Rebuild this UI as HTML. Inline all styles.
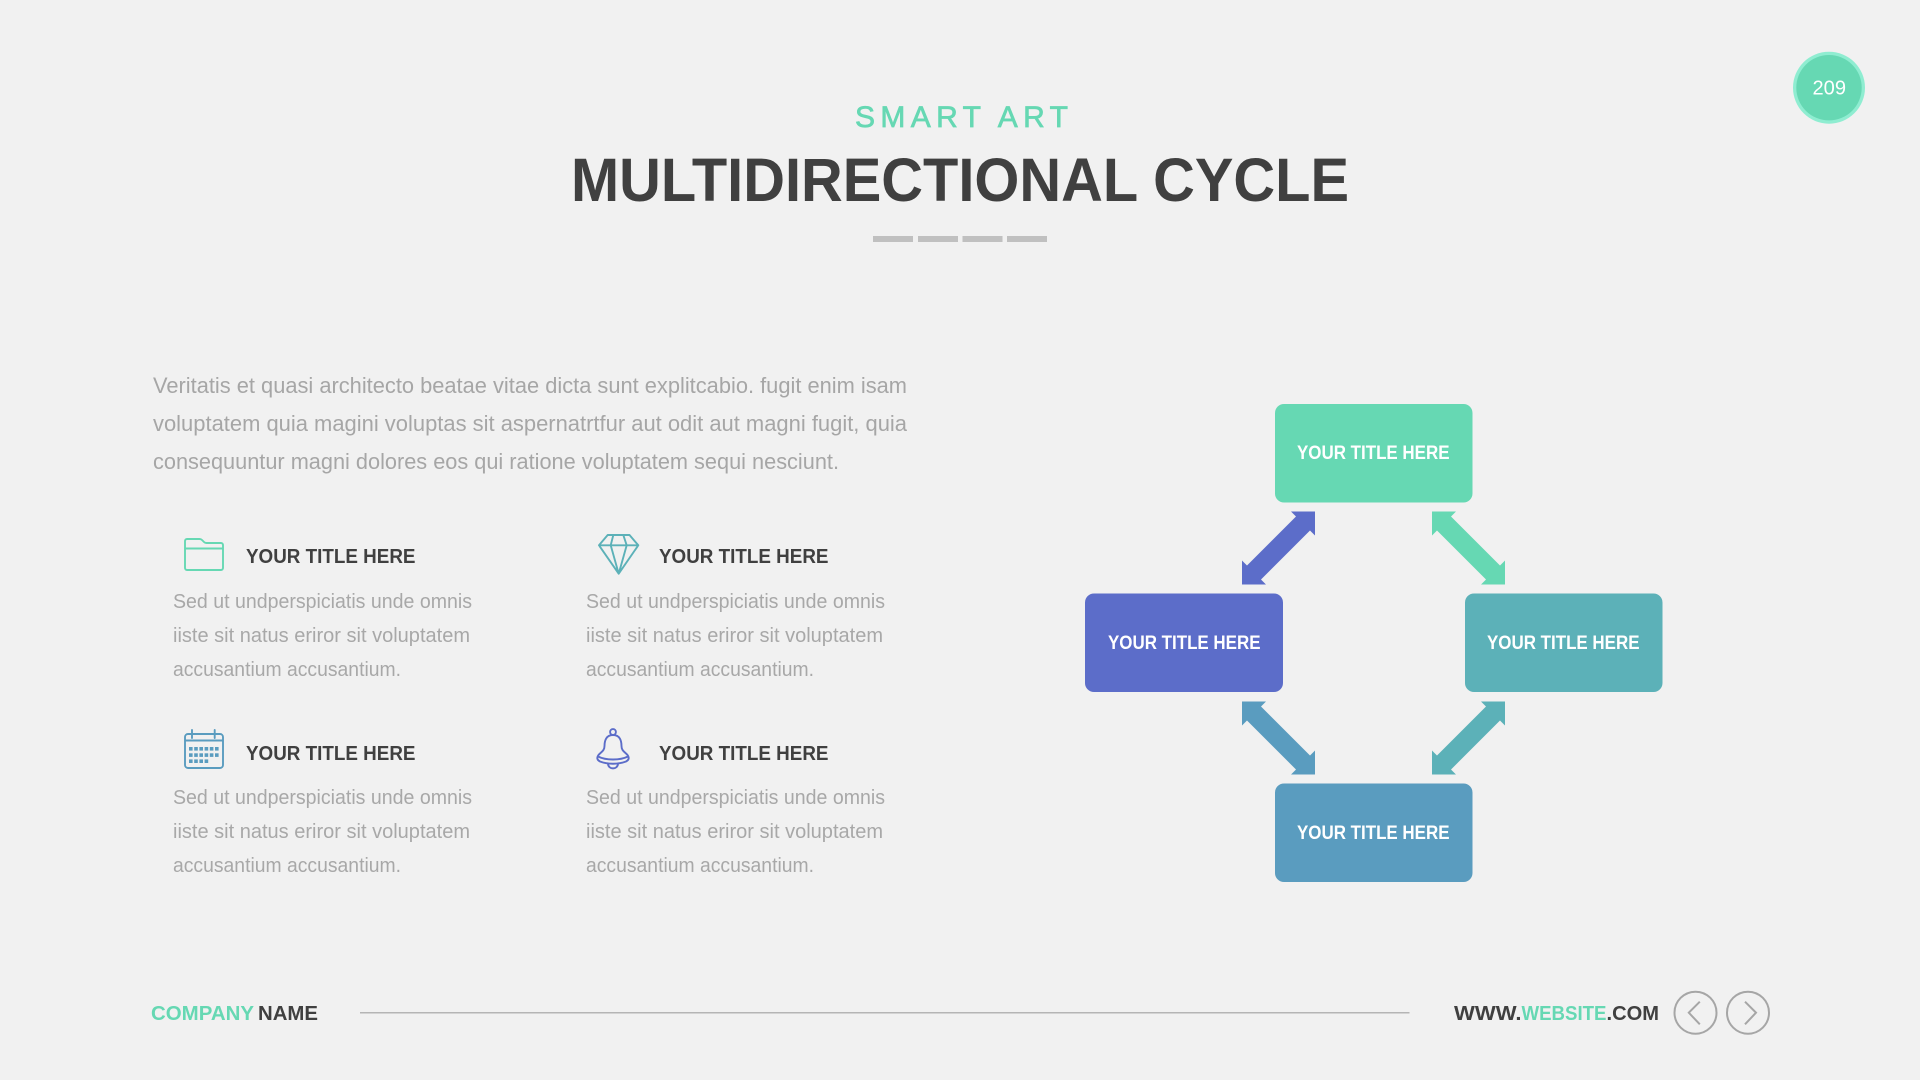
<!DOCTYPE html>
<html lang="en">
<head>
<meta charset="utf-8">
<title>Multidirectional Cycle</title>
<style>
html,body{margin:0;padding:0;background:#f1f1f1;width:1920px;height:1080px;overflow:hidden}
svg{display:block}
text{font-family:"Liberation Sans",sans-serif}
.h{font-weight:700;font-size:20.5px;fill:#404040}
.b{font-size:20.5px;fill:#a8a8a8}
.p{font-size:22.5px;fill:#a6a6a6}
.w{font-weight:700;font-size:19.5px;fill:#fff}
.f{font-weight:700;font-size:20.5px;fill:#404040}
.g{fill:#66d8b3}
.i{fill:none;stroke-width:1.9;stroke-linecap:round;stroke-linejoin:round}
</style>
</head>
<body>
<svg width="1920" height="1080" viewBox="0 0 1920 1080" xmlns="http://www.w3.org/2000/svg">
<rect width="1920" height="1080" fill="#f1f1f1"/>

<!-- badge -->
<circle cx="1829" cy="87.7" r="36" fill="#8fedd1"/>
<circle cx="1829" cy="87.7" r="32.7" fill="#66d8b3"/>
<text x="1812.5" y="94.5" font-size="20.5" fill="#fff" textLength="33.5" lengthAdjust="spacingAndGlyphs">209</text>

<!-- heading -->
<text x="855" y="127" font-size="30" class="g" stroke="#66d8b3" stroke-width="0.7" textLength="213" lengthAdjust="spacing">SMART ART</text>
<text x="571" y="201" font-size="61" font-weight="700" fill="#404040" textLength="778" lengthAdjust="spacingAndGlyphs">MULTIDIRECTIONAL CYCLE</text>
<rect x="873" y="236" width="40" height="6" fill="#c0c0c0"/>
<rect x="918" y="236" width="40" height="6" fill="#c0c0c0"/>
<rect x="962.5" y="236" width="40" height="6" fill="#c0c0c0"/>
<rect x="1007" y="236" width="40" height="6" fill="#c0c0c0"/>

<!-- paragraph -->
<text class="p" x="153" y="393" textLength="754" lengthAdjust="spacingAndGlyphs">Veritatis et quasi architecto beatae vitae dicta sunt explitcabio. fugit enim isam</text>
<text class="p" x="153" y="431" textLength="754" lengthAdjust="spacingAndGlyphs">voluptatem quia magini voluptas sit aspernatrtfur aut odit aut magni fugit, quia</text>
<text class="p" x="153" y="469" textLength="686" lengthAdjust="spacingAndGlyphs">consequuntur magni dolores eos qui ratione voluptatem sequi nesciunt.</text>

<!-- item 1 -->
<path class="i" stroke="#66d8b3" d="M185 541a2 2 0 0 1 2-2h12.5q1.5 0 2.5 1l2 2q1 1 2.5 1H221a2 2 0 0 1 2 2v23a2 2 0 0 1-2 2H187a2 2 0 0 1-2-2ZM185 548.5H223"/>
<text class="h" x="246" y="563" textLength="169.5" lengthAdjust="spacingAndGlyphs">YOUR TITLE HERE</text>
<text class="b" x="173" y="608" textLength="299" lengthAdjust="spacingAndGlyphs">Sed ut undperspiciatis unde omnis</text>
<text class="b" x="173" y="642" textLength="297" lengthAdjust="spacingAndGlyphs">iiste sit natus eriror sit voluptatem</text>
<text class="b" x="173" y="676" textLength="228" lengthAdjust="spacingAndGlyphs">accusantium accusantium.</text>

<!-- item 2 -->
<path class="i" stroke="#5cb1b8" d="M607.7 535H629.5L638.3 545.3 618.7 573.7 599 545.3ZM599 545.3H638.3M613.3 535 610.7 545.3 618.7 573.7 626.7 545.3 623.3 535"/>
<text class="h" x="659" y="563" textLength="169.5" lengthAdjust="spacingAndGlyphs">YOUR TITLE HERE</text>
<text class="b" x="586" y="608" textLength="299" lengthAdjust="spacingAndGlyphs">Sed ut undperspiciatis unde omnis</text>
<text class="b" x="586" y="642" textLength="297" lengthAdjust="spacingAndGlyphs">iiste sit natus eriror sit voluptatem</text>
<text class="b" x="586" y="676" textLength="228" lengthAdjust="spacingAndGlyphs">accusantium accusantium.</text>

<!-- item 3 -->
<path class="i" stroke="#5a9cbf" d="M185 737a3 3 0 0 1 3-3h32a3 3 0 0 1 3 3v28a3 3 0 0 1-3 3H188a3 3 0 0 1-3-3ZM185 740.5H223M192 730V738M214.7 730V738"/>
<g fill="#5a9cbf">
<rect x="189" y="747" width="3.6" height="3.6"/><rect x="194.2" y="747" width="3.6" height="3.6"/><rect x="199.4" y="747" width="3.6" height="3.6"/><rect x="204.6" y="747" width="3.6" height="3.6"/><rect x="209.8" y="747" width="3.6" height="3.6"/><rect x="215" y="747" width="3.6" height="3.6"/>
<rect x="189" y="753.3" width="3.6" height="3.6"/><rect x="194.2" y="753.3" width="3.6" height="3.6"/><rect x="199.4" y="753.3" width="3.6" height="3.6"/><rect x="204.6" y="753.3" width="3.6" height="3.6"/><rect x="209.8" y="753.3" width="3.6" height="3.6"/><rect x="215" y="753.3" width="3.6" height="3.6"/>
<rect x="189" y="759.4" width="3.6" height="3.6"/><rect x="194.2" y="759.4" width="3.6" height="3.6"/><rect x="199.4" y="759.4" width="3.6" height="3.6"/><rect x="204.6" y="759.4" width="3.6" height="3.6"/>
</g>
<text class="h" x="246" y="760" textLength="169.5" lengthAdjust="spacingAndGlyphs">YOUR TITLE HERE</text>
<text class="b" x="173" y="804" textLength="299" lengthAdjust="spacingAndGlyphs">Sed ut undperspiciatis unde omnis</text>
<text class="b" x="173" y="838" textLength="297" lengthAdjust="spacingAndGlyphs">iiste sit natus eriror sit voluptatem</text>
<text class="b" x="173" y="872" textLength="228" lengthAdjust="spacingAndGlyphs">accusantium accusantium.</text>

<!-- item 4 -->
<path class="i" stroke="#5c6dc9" d="M613 735C606 735 604.5 741 604.5 746C604.5 751 601 752 598.5 755C596.5 757.5 597 760 600 761.5C608 764.5 618 764.5 626 761.5C629 760 629.5 757.5 627.5 755C625 752 621.5 751 621.5 746C621.5 741 620 735 613 735ZM598 756.5C606 760.5 620 760.5 628 756.5M608 763.5C608 770 618 770 618 763.5"/>
<circle class="i" stroke="#5c6dc9" cx="613" cy="732" r="2.9" fill="#f1f1f1"/>
<text class="h" x="659" y="760" textLength="169.5" lengthAdjust="spacingAndGlyphs">YOUR TITLE HERE</text>
<text class="b" x="586" y="804" textLength="299" lengthAdjust="spacingAndGlyphs">Sed ut undperspiciatis unde omnis</text>
<text class="b" x="586" y="838" textLength="297" lengthAdjust="spacingAndGlyphs">iiste sit natus eriror sit voluptatem</text>
<text class="b" x="586" y="872" textLength="228" lengthAdjust="spacingAndGlyphs">accusantium accusantium.</text>

<!-- cycle boxes -->
<rect x="1275" y="404" width="197.5" height="98.5" rx="9" fill="#66d8b3"/>
<rect x="1085" y="593.5" width="198" height="98.5" rx="9" fill="#5c6dc9"/>
<rect x="1465" y="593.5" width="197.5" height="98.5" rx="9" fill="#5cb1b8"/>
<rect x="1275" y="783.5" width="197.5" height="98.5" rx="9" fill="#5a9cbf"/>
<text class="w" x="1297" y="459" textLength="152.5" lengthAdjust="spacingAndGlyphs">YOUR TITLE HERE</text>
<text class="w" x="1108" y="649" textLength="152.5" lengthAdjust="spacingAndGlyphs">YOUR TITLE HERE</text>
<text class="w" x="1487" y="649" textLength="152.5" lengthAdjust="spacingAndGlyphs">YOUR TITLE HERE</text>
<text class="w" x="1297" y="839" textLength="152.5" lengthAdjust="spacingAndGlyphs">YOUR TITLE HERE</text>

<!-- arrows -->
<polygon fill="#5c6dc9" points="1315,511.5 1291,511.5 1296,516.5 1247,565.5 1242,560.5 1242,584.5 1266,584.5 1261,579.5 1310,530.5 1315,535.5"/>
<polygon fill="#66d8b3" points="1432,511.5 1456,511.5 1451,516.5 1500,565.5 1505,560.5 1505,584.5 1481,584.5 1486,579.5 1437,530.5 1432,535.5"/>
<polygon fill="#5a9cbf" points="1242,701.5 1266,701.5 1261,706.5 1310,755.5 1315,750.5 1315,774.5 1291,774.5 1296,769.5 1247,720.5 1242,725.5"/>
<polygon fill="#5cb1b8" points="1505,701.5 1481,701.5 1486,706.5 1437,755.5 1432,750.5 1432,774.5 1456,774.5 1451,769.5 1500,720.5 1505,725.5"/>

<!-- footer -->
<text class="f" x="151" y="1020" textLength="103" lengthAdjust="spacingAndGlyphs" style="fill:#66d8b3">COMPANY</text>
<text class="f" x="258" y="1020" textLength="60" lengthAdjust="spacingAndGlyphs">NAME</text>
<line x1="360" y1="1012.7" x2="1409.5" y2="1012.7" stroke="#b5b5b5" stroke-width="1.5"/>
<text class="f" x="1454" y="1020" textLength="67.5" lengthAdjust="spacingAndGlyphs">WWW.</text>
<text class="f" x="1521.5" y="1020" textLength="85" lengthAdjust="spacingAndGlyphs" style="fill:#66d8b3">WEBSITE</text>
<text class="f" x="1606.5" y="1020" textLength="52.5" lengthAdjust="spacingAndGlyphs">.COM</text>
<circle cx="1695.5" cy="1012.7" r="21" fill="none" stroke="#a6a6a6" stroke-width="2"/>
<circle cx="1748" cy="1012.7" r="21" fill="none" stroke="#a6a6a6" stroke-width="2"/>
<path d="M1699.8 1001.7 1688.8 1012.7 1699.8 1024.3M1745 1001.7 1756 1012.7 1745 1024.3" fill="none" stroke="#a6a6a6" stroke-width="2"/>
</svg>
</body>
</html>
